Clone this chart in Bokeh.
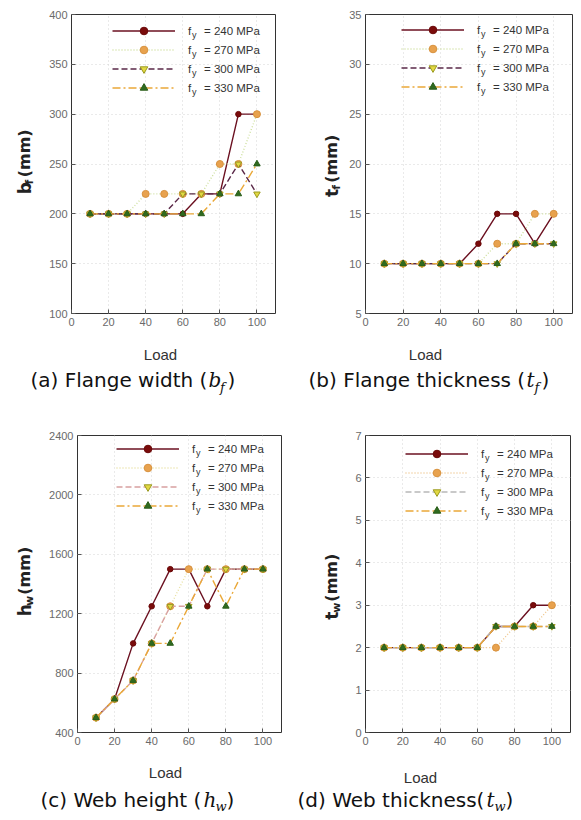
import math
from bokeh.plotting import figure
from bokeh.models import Label, Legend, LegendItem, Range1d, FixedTicker
from bokeh.core.properties import value
from bokeh.layouts import column, row
from bokeh.embed import file_html
from bokeh.resources import INLINE

# ---------------- data ----------------
loads = [10, 20, 30, 40, 50, 60, 70, 80, 90, 100]
fy_values = ["240", "270", "300", "330"]

bf_240 = [200, 200, 200, 200, 200, 200, 220, 220, 300, 300]
bf_270 = [200, 200, 200, 220, 220, 220, 220, 250, 250, 300]
bf_300 = [200, 200, 200, 200, 200, 220, 220, 220, 250, 220]
bf_330 = [200, 200, 200, 200, 200, 200, 200, 220, 220, 250]

tf_240 = [10, 10, 10, 10, 10, 12, 15, 15, 12, 15]
tf_270 = [10, 10, 10, 10, 10, 10, 12, 12, 15, 15]
tf_300 = [10, 10, 10, 10, 10, 10, 10, 12, 12, 12]
tf_330 = [10, 10, 10, 10, 10, 10, 10, 12, 12, 12]

hw_240 = [500, 625, 1000, 1250, 1500, 1500, 1250, 1500, 1500, 1500]
hw_270 = [500, 625, 750, 1000, 1250, 1500, 1500, 1500, 1500, 1500]
hw_300 = [500, 625, 750, 1000, 1250, 1250, 1500, 1500, 1500, 1500]
hw_330 = [500, 625, 750, 1000, 1000, 1250, 1500, 1250, 1500, 1500]

tw_240 = [2, 2, 2, 2, 2, 2, 2.5, 2.5, 3, 3]
tw_270 = [2, 2, 2, 2, 2, 2, 2, 2.5, 2.5, 3]
tw_300 = [2, 2, 2, 2, 2, 2, 2.5, 2.5, 2.5, 2.5]
tw_330 = [2, 2, 2, 2, 2, 2, 2.5, 2.5, 2.5, 2.5]

x_ticks = [0, 20, 40, 60, 80, 100]
bf_ticks = [100, 150, 200, 250, 300, 350, 400]
tf_ticks = [5, 10, 15, 20, 25, 30, 35]
hw_ticks = [400, 800, 1200, 1600, 2000, 2400]
tw_ticks = [0, 1, 2, 3, 4, 5, 6, 7]

# ---------------- styles ----------------
markers = ["circle", "circle", "inverted_triangle", "triangle"]
m_fill = ["#7a0b0b", "#e8a24e", "#e2d843", "#2f6a1f"]
m_line = ["#6a0808", "#d8923e", "#9a9a20", "#2a5e1a"]
m_size = [5.5, 7, 6.5, 6.5]

TICK_FONT = "Liberation Sans"
CAP_FONT = "DejaVu Sans"


def make_panel(width, height, bl, br, bt, bb, yr, yticks, series, lcolors,
               ldashes, legend_xy):
    p = figure(width=width, height=height, output_backend="svg",
               toolbar_location=None, tools="",
               x_range=Range1d(0, 110), y_range=Range1d(*yr),
               min_border_left=bl, min_border_right=br,
               min_border_top=bt, min_border_bottom=bb)
    p.outline_line_color = "#333333"
    p.outline_line_width = 1
    for ax in (p.xaxis, p.yaxis):
        ax.axis_line_color = None
        ax.major_tick_in = 4
        ax.major_tick_out = 0
        ax.minor_tick_line_color = None
        ax.major_tick_line_color = "#555555"
        ax.major_label_text_font = TICK_FONT
        ax.major_label_text_font_size = "11px"
        ax.major_label_text_color = "#6a6a6a"
        ax.major_label_standoff = 4
    p.xaxis.ticker = FixedTicker(ticks=x_ticks)
    p.yaxis.ticker = FixedTicker(ticks=yticks)
    p.xgrid.ticker = FixedTicker(ticks=x_ticks)
    p.ygrid.ticker = FixedTicker(ticks=yticks)
    for g in (p.xgrid, p.ygrid):
        g.grid_line_color = "#d4d4d4"
        g.grid_line_dash = "1 3"
        g.grid_line_width = 1

    items = []
    for i, ys in enumerate(series):
        lr = p.line(loads, ys, line_color=lcolors[i], line_dash=ldashes[i],
                    line_width=1.4)
        sr = p.scatter(loads, ys, marker=markers[i], size=m_size[i],
                       fill_color=m_fill[i], line_color=m_line[i])
        items.append(LegendItem(label="f    = %s MPa" % fy_values[i],
                                renderers=[lr, sr]))

    lx, ly = legend_xy
    row_h = 19
    leg = Legend(items=items, location=(lx, ly), glyph_width=63,
                 glyph_height=row_h, label_height=row_h, spacing=0, padding=0,
                 label_standoff=13, border_line_color=None,
                 background_fill_alpha=0, label_text_font=TICK_FONT,
                 label_text_font_size="11.5px", label_text_color="#333333",
                 margin=0)
    p.add_layout(leg, "center")
    # subscript "y" of f_y inside the legend
    top = ly + 4 * row_h
    for i in range(4):
        cy = top - row_h / 2 - i * row_h
        p.add_layout(Label(x=lx + 63 + 13 + 3.5, y=cy - 3.5, x_units="screen",
                           y_units="screen", text="y", text_align="left",
                           text_baseline="middle", text_font=TICK_FONT,
                           text_font_size="9px", text_color="#333333"))
    return p


def strip(width, height):
    s = figure(width=width, height=height, output_backend="svg",
               toolbar_location=None, tools="",
               x_range=Range1d(0, width), y_range=Range1d(0, height),
               x_axis_type=None, y_axis_type=None, min_border=0)
    s.grid.grid_line_color = None
    s.outline_line_color = None
    return s


def ylabel(s, x, y_start, main, sub, sub_off, rest_off):
    common = dict(angle=math.pi / 2, text_align="left", text_baseline="middle",
                  text_font=value("DejaVu Sans"), text_font_style="bold",
                  text_color="#222222")
    s.text(x=[x], y=[y_start], text=[main], text_font_size="17px", **common)
    s.text(x=[x + 5], y=[y_start + sub_off], text=[sub],
           text_font_size="11px", **common)
    s.text(x=[x], y=[y_start + rest_off], text=["(mm)"],
           text_font_size="16px", **common)


def texts(s, pieces):
    for (txt, cx, cy, kind) in pieces:
        if kind == "main":
            kw = dict(text_font=value(CAP_FONT), text_font_size="20px",
                      text_font_style="normal", text_color="#111111")
        elif kind == "load":
            kw = dict(text_font=value(TICK_FONT), text_font_size="15px",
                      text_font_style="normal", text_color="#333333")
        elif kind == "math":
            kw = dict(text_font=value("DejaVu Serif"),
                      text_font_style="italic", text_font_size="20px",
                      text_color="#111111")
        else:
            kw = dict(text_font=value("DejaVu Serif"),
                      text_font_style="italic", text_font_size="13px",
                      text_color="#111111")
        align = "center" if kind == "load" else "left"
        s.text(x=[cx], y=[cy], text=[txt], text_align=align,
               text_baseline="middle", **kw)


ab_colors = ["#6b1020", "#cfe0a0", "#5a2848", "#eaa838"]
c_colors = ["#6b1020", "#e8e0a0", "#d8a0a0", "#eaa838"]
d_colors = ["#6b1020", "#f0c890", "#b8b8b8", "#eaa838"]
dashes = ["solid", "1 2", "6 3", "8 3 2 3"]

H1, H2 = 336, 345          # heights of the two plot rows
T1, T2 = 336, 755          # image y of the two text strips' tops

pa = make_panel(246, H1, 27, 15, 14, 23, (100, 400), bf_ticks,
                [bf_240, bf_270, bf_300, bf_330], ab_colors, dashes, (41, 216))
pb = make_panel(236, H1, 20, 9, 14, 23, (5, 35), tf_ticks,
                [tf_240, tf_270, tf_300, tf_330], ab_colors, dashes, (36, 217))
pc = make_panel(244, H2, 31, 9, 21, 23, (400, 2400), hw_ticks,
                [hw_240, hw_270, hw_300, hw_330], c_colors, dashes, (39, 217))
pd_ = make_panel(236, H2, 20, 11, 25, 20, (0, 7), tw_ticks,
                 [tw_240, tw_270, tw_300, tw_330], d_colors, dashes, (40, 212))

yl_a = strip(44, H1)
ylabel(yl_a, 24, T1 - 202, "b", "f", 11, 19)
yl_b = strip(55, H1)
ylabel(yl_b, 331 - 290, T1 - 205, "t", "f", 8, 16)
yl_c = strip(46, H2)
ylabel(yl_c, 24, T2 - 620, "h", "w", 12, 25)
yl_d = strip(55, H2)
ylabel(yl_d, 331 - 290, T2 - 624, "t", "w", 8, 21)

hb = 410 - T1
cap_ab = strip(581, hb)
texts(cap_ab, [("Load", 160, 410 - 354, "load"),
               ("Load", 425, 410 - 354, "load"),
               ("(a) Flange width (", 30, 410 - 379, "main"),
               ("b", 208, 410 - 379, "math"),
               ("f", 219.5, 410 - 387, "sub"),
               (")", 227, 410 - 379, "main"),
               ("(b) Flange thickness (", 308, 410 - 379, "main"),
               ("t", 526, 410 - 379, "math"),
               ("f", 534, 410 - 387, "sub"),
               (")", 541, 410 - 379, "main")])

hd = 820 - T2
cap_cd = strip(581, hd)
texts(cap_cd, [("Load", 165, 820 - 772, "load"),
               ("Load", 420, 820 - 777, "load"),
               ("(c) Web height (", 40, 820 - 799, "main"),
               ("h", 203, 820 - 799, "math"),
               ("w", 215, 820 - 806, "sub"),
               (")", 226, 820 - 799, "main"),
               ("(d) Web thickness(", 297, 820 - 799, "main"),
               ("t", 486, 820 - 799, "math"),
               ("w", 494, 820 - 806, "sub"),
               (")", 505, 820 - 799, "main")])

layout = column(row(yl_a, pa, yl_b, pb), cap_ab,
                row(yl_c, pc, yl_d, pd_), cap_cd)
open("out.html", "w").write(file_html(layout, INLINE))
